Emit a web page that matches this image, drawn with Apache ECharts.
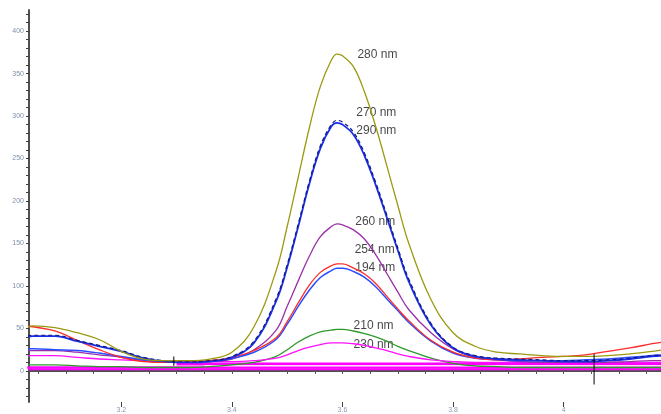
<!DOCTYPE html>
<html>
<head>
<meta charset="utf-8">
<script src="https://cdn.jsdelivr.net/npm/echarts@6/dist/echarts.min.js"></script>
<style>html,body{margin:0;padding:0;background:#fff}#c{width:661px;height:414px}</style>
</head>
<body>
<div id="c"></div>
<script>
// retention time (min)
const times = [3.03,3.04,3.08,3.12,3.16,3.20,3.24,3.28,3.32,3.36,3.40,3.44,3.48,3.50,3.52,3.54,3.56,3.58,3.59,3.60,3.62,3.64,3.66,3.68,3.70,3.72,3.76,3.80,3.84,3.88,3.92,3.96,4.00,4.04,4.08,4.12,4.16,4.18];
const s280 = [51,53,51,45,37,23,14,12,12,14,22,52,118,170,228,286,335,366,373,371,358,328,288,242,195,150,84,45,29,22,20,18,17,17,18,20,23,25];
const s270 = [41,42,42,36,30,24,16,12,11,12,17,35,85,125,173,223,265,290,295,293,281,256,222,184,145,108,56,28,18,15,14,13,12,12,13,15,18,19];
const s290 = [40,41,41,35,29,23,15,11,10,11,16,33,82,122,170,220,262,288,292,290,278,253,219,181,142,105,54,27,17,14,13,12,11,11,12,14,17,18];
const s260 = [24,24,24,22,19,16,12,10,10,11,14,25,48,76,106,135,158,170,173,172,166,155,137,115,93,72,45,26,16,13,11,10,10,10,10,11,12,12];
const s254 = [53,52,47,36,25,16,11,10,11,12,16,24,39,58,80,101,116,124,126,126,121,114,103,88,73,59,36,22,15,13,14,16,17,19,23,27,32,34];
const s194 = [26,26,25,24,21,17,13,11,11,12,15,22,37,55,76,95,110,118,121,121,117,110,99,85,71,57,35,21,15,13,12,12,12,13,14,16,18,19];
const s210 = [7,7,7,6,5,5,4,4,4,5,7,10,17,25,34,41,46,48,49,49,47,44,40,35,29,24,15,9,6,5,4,4,4,4,4,4,4,4];
const s230 = [18,18,18,16,14,13,12,11,11,11,11,12,15,19,24,28,31,33,33,33,32,30,27,24,20,17,13,11,10,10,10,10,10,10,10,10,10,10];
// flat baseline traces [startTime, endTime, value]
const baseMagentaA = [3.03, 4.18, 4];
const baseMagentaB = [3.30, 4.18, 8];
const baseMagentaC = [3.03, 4.18, 2];
const baseWhite = [3.35, 4.18, 6];
// integration markers [time, low, high]
const markers = [[3.295, 6, 17], [4.055, -16, 20]];
// peak labels [text, time, value]
const peakLabels = [
  ['280 nm', 3.627, 372.5],
  ['270 nm', 3.625, 304],
  ['290 nm', 3.625, 283],
  ['260 nm', 3.623, 175.5],
  ['254 nm', 3.622, 143],
  ['194 nm', 3.623, 122],
  ['210 nm', 3.620, 53],
  ['230 nm', 3.620, 31]
];
const xTickLabels = [3.2, 3.4, 3.6, 3.8, 4.0];
const yTickLabels = [0, 50, 100, 150, 200, 250, 300, 350, 400];

const xMinor = []; for (let v = 3.05; v < 4.17; v += 0.05) xMinor.push(+v.toFixed(2));
const yMinor = []; for (let v = -30; v <= 420; v += 10) yMinor.push(v);

function pts(vals) { return times.map((t, i) => [t, vals[i]]); }
function curve(name, vals, color, width, dashed) {
  return { name, type: 'line', data: pts(vals), smooth: 0.4, symbol: 'none',
    lineStyle: { color, width, type: dashed ? [4, 3] : 'solid' }, silent: true };
}
function flat(arr, color, width) {
  return { type: 'line', data: [[arr[0], arr[2]], [arr[1], arr[2]]], symbol: 'none',
    lineStyle: { color, width }, silent: true };
}

const series = [
  flat(baseMagentaC, '#ff00ff', 2),
  flat(baseMagentaA, '#ff00ff', 2.5),
  flat(baseMagentaB, '#ff00ff', 3),
  flat(baseWhite, '#ffffff', 1),
  curve('210 nm', s210, '#2e9a2e', 1.3),
  curve('230 nm', s230, '#ff10ff', 1.3),
  curve('260 nm', s260, '#9a30a8', 1.3),
  curve('194 nm', s194, '#2a4dff', 1.5),
  curve('254 nm', s254, '#ff2a2a', 1.3),
  curve('290 nm', s290, '#1a2ee8', 1.8),
  curve('270 nm', s270, '#101a80', 1.2, true),
  curve('280 nm', s280, '#9a9a10', 1.3)
];
markers.forEach(m => series.push({ type: 'line', data: [[m[0], m[1]], [m[0], m[2]]], symbol: 'none',
  lineStyle: { color: '#000', width: 1 }, silent: true }));
series.push({
  type: 'scatter', symbolSize: 0, silent: true,
  data: peakLabels.map(p => ({ value: [p[1], p[2]], name: p[0] })),
  label: { show: true, position: 'right', distance: 0, formatter: p => p.name,
    fontFamily: 'Liberation Sans, Arial, sans-serif', fontSize: 12, color: '#151515' }
});

const chart = echarts.init(document.getElementById('c'));
chart.setOption({
  animation: false,
  grid: { left: 29, right: 0, top: 10, bottom: 9 },
  xAxis: [{
    type: 'value', min: 3.0331, max: 4.176,
    axisLine: { show: true, lineStyle: { color: '#505050', width: 2 } },
    axisTick: { show: true, inside: false, length: 3, customValues: xMinor, lineStyle: { color: '#505050', width: 1 } },
    axisLabel: { show: true, customValues: xTickLabels, margin: 5, fontSize: 7, color: '#8a9ab4',
      fontFamily: 'Liberation Sans, Arial, sans-serif', formatter: v => (Math.abs(v - 4) < 1e-9 ? '4' : v.toFixed(1)) },
    splitLine: { show: false }
  }, {
    type: 'value', min: 3.0331, max: 4.176, position: 'bottom',
    axisLine: { show: false },
    axisTick: { show: true, length: 5, customValues: xTickLabels, lineStyle: { color: '#404040', width: 1 } },
    axisLabel: { show: false }, splitLine: { show: false }
  }],
  yAxis: {
    type: 'value', min: -36.6, max: 424.9,
    axisLine: { show: true, lineStyle: { color: '#505050', width: 2 } },
    axisTick: { show: true, length: 3, customValues: yMinor, lineStyle: { color: '#404040', width: 1 } },
    axisLabel: { show: true, customValues: yTickLabels, margin: 5, fontSize: 7, color: '#7f8fa8',
      fontFamily: 'Liberation Sans, Arial, sans-serif' },
    splitLine: { show: false }
  },
  series
});
</script>
</body>
</html>
